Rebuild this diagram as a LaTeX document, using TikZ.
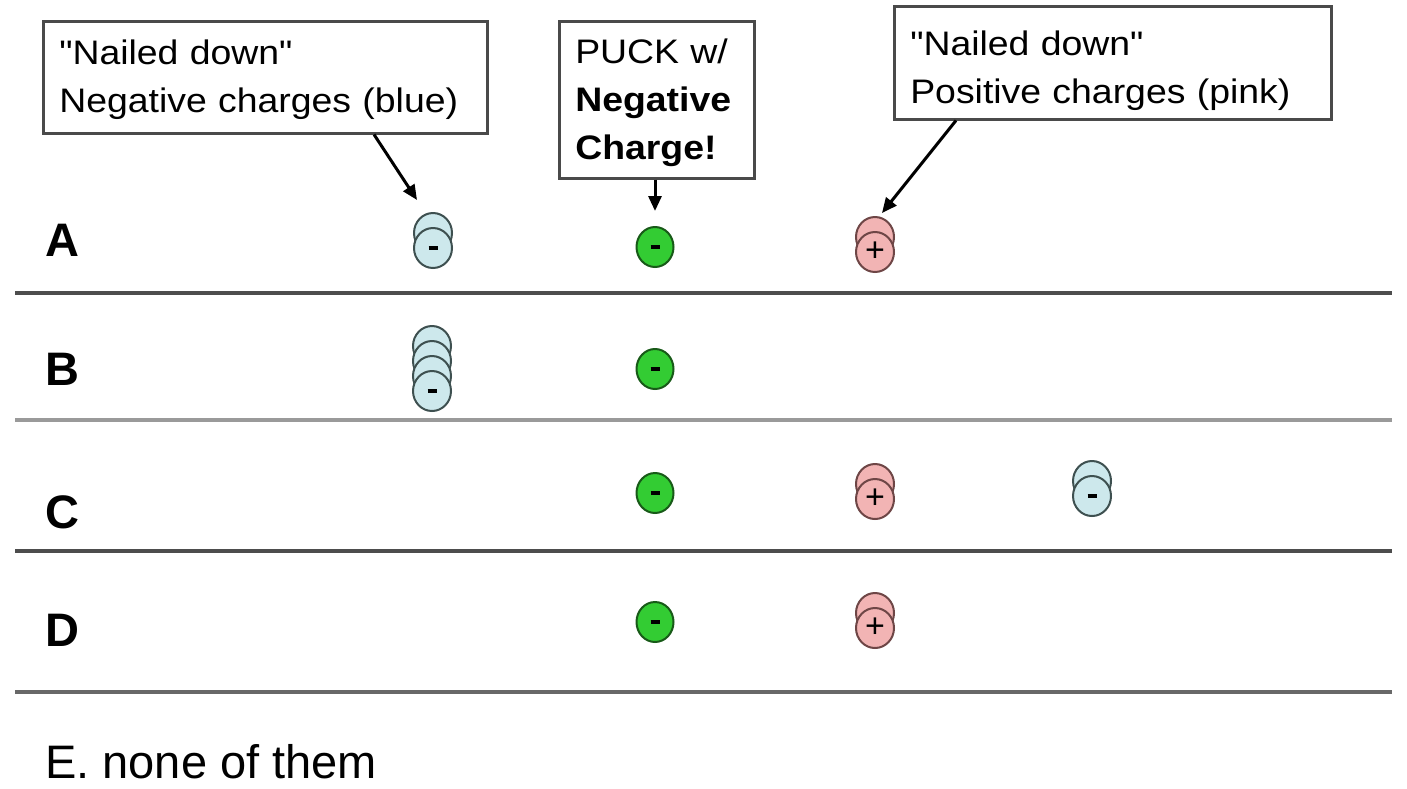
\documentclass[tikz,border=0pt]{standalone}
\usepackage{fontspec}
\setmainfont{Liberation Sans}
\newfontfamily\boxfont[FakeStretch=1.1]{Liberation Sans}
\usepackage{xcolor}
\usetikzlibrary{positioning,shapes.geometric,arrows.meta}

\definecolor{boxgray}{HTML}{4A4A4A}
\definecolor{rulegray}{HTML}{4D4D4D}
\definecolor{rulelight}{HTML}{9A9A9A}
\definecolor{negfill}{HTML}{CDE8EC}
\definecolor{negedge}{HTML}{3E5050}
\definecolor{puckfill}{HTML}{33CC33}
\definecolor{puckedge}{HTML}{185A18}
\definecolor{posfill}{HTML}{F2B4B4}
\definecolor{posedge}{HTML}{6E4646}

\tikzset{
  tag/.style={draw=boxgray, line width=2.5pt, fill=white, anchor=north west, align=left,
    inner xsep=16pt, text height=30pt, font=\boxfont\fontsize{34}{48}\selectfont},
  rowlabel/.style={anchor=west, inner sep=0pt, font=\bfseries\fontsize{47}{56}\selectfont},
  divider/.style={line width=3.5pt, draw=rulegray},
  pointer/.style={line width=3pt, -{Triangle[length=15pt,width=13pt]}},
  negcoinback/.style={draw=negedge, fill=negfill, line width=2pt},
  poscoinback/.style={draw=posedge, fill=posfill, line width=2pt},
  negcoin/.style={ellipse, negcoinback, minimum width=38pt, minimum height=40pt, inner sep=0pt},
  poscoin/.style={ellipse, poscoinback, minimum width=38pt, minimum height=40pt, inner sep=0pt},
  puck/.style={ellipse, draw=puckedge, fill=puckfill, line width=2pt, minimum width=37pt, minimum height=40pt, inner sep=0pt}
}

% coin seen edge-on: #4 discs stacked behind the front one
\newcommand{\stackcoin}[6]{%
  \foreach \k in {#4,...,1}
    \draw[#5back] (#2,{#3-15*\k}) ellipse [x radius=19pt, y radius=20pt];
  \node[#5] (#1) at (#2,#3) {#6};
}
\newcommand{\minussign}{\rule[-1.75pt]{9pt}{3.5pt}}
\newcommand{\plussign}{\fontsize{34}{34}\selectfont +}

\begin{document}
\begin{tikzpicture}[x=1pt,y=-1pt]
\fill[white] (0,0) rectangle (1407,788);
\useasboundingbox (0,0) rectangle (1407,788);

% boxes
\node[tag, minimum height=112pt, text width=412pt] (negtag) at (42,20)
  {"Nailed down"\\Negative charges (blue)};
\node[tag, minimum height=157pt, text width=163pt] (pucktag) at (558,20)
  {PUCK w/\\\textbf{Negative}\\\textbf{Charge!}};
\node[tag, minimum height=113pt, text width=405pt, text height=40pt] (postag) at (893,5)
  {"Nailed down"\\Positive charges (pink)};

% rows
\node[rowlabel] (rowA) at (45,240) {A};
\node[rowlabel] (rowB) at (45,369) {B};
\node[rowlabel] (rowC) at (45,512) {C};
\node[rowlabel] (rowD) at (45,630) {D};

\draw[divider] (15,293) -- (1392,293);
\draw[divider, draw=rulelight] (15,420) -- (1392,420);
\draw[divider] (15,551) -- (1392,551);
\draw[divider, draw=rulegray!85!white] (15,692) -- (1392,692);

% charges
\stackcoin{negA}{433}{248}{1}{negcoin}{\minussign}
\node[puck] (puckA) at (655,247) {\minussign};
\stackcoin{posA}{875}{252}{1}{poscoin}{\plussign}

\stackcoin{negB}{432}{391}{3}{negcoin}{\minussign}
\node[puck] (puckB) at (655,369) {\minussign};

\node[puck] (puckC) at (655,493) {\minussign};
\stackcoin{posC}{875}{499}{1}{poscoin}{\plussign}
\stackcoin{negC}{1092}{496}{1}{negcoin}{\minussign}

\node[puck] (puckD) at (655,622) {\minussign};
\stackcoin{posD}{875}{628}{1}{poscoin}{\plussign}

% arrows
\draw[pointer] ([xshift=332pt]negtag.south west) -- ([xshift=-16pt,yshift=48pt]negA.center);
\draw[pointer] (pucktag.south -| puckA) -- ([yshift=15pt]puckA.north);
\draw[pointer] ([xshift=63pt]postag.south west) -- ([xshift=7pt,yshift=39pt]posA.center);

\node[anchor=base west, inner sep=0pt, font=\fontsize{47}{52}\selectfont] (choiceE) at (45,778)
  {E. none of them};
\end{tikzpicture}
\end{document}
